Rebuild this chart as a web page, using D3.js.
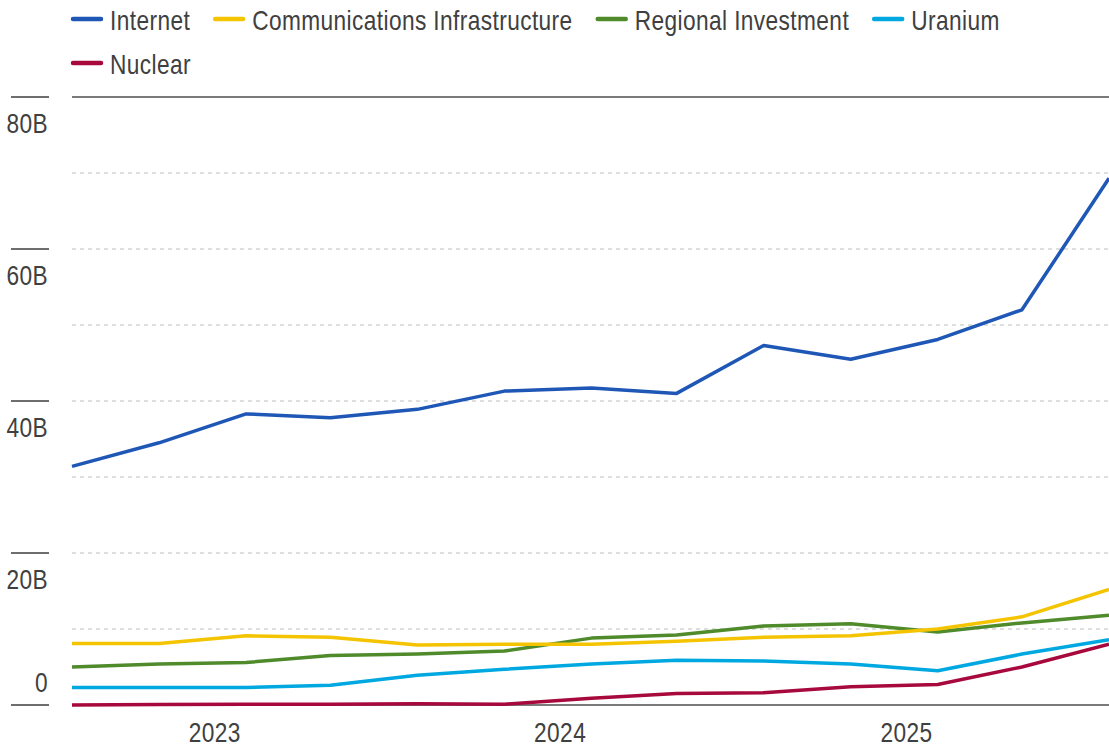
<!DOCTYPE html>
<html>
<head>
<meta charset="utf-8">
<script src="https://cdn.jsdelivr.net/npm/d3@7"></script>
<style>
  html, body { margin: 0; padding: 0; background: #fff; }
  svg { display: block; }
  text { font-family: "Liberation Sans", Arial, sans-serif; fill: #404040; letter-spacing: 0.5px; }
</style>
</head>
<body>
<svg id="chart" width="1109" height="749"></svg>
<script>
const dates = ["2022-08-01", "2022-11-01", "2023-02-01", "2023-05-01", "2023-08-01",
  "2023-11-01", "2024-02-01", "2024-05-01", "2024-08-01", "2024-11-01",
  "2025-02-01", "2025-05-01", "2025-08-01"];

const seriesNames = ["Internet", "Communications Infrastructure", "Regional Investment", "Uranium", "Nuclear"];
const seriesColors = ["#1f57b6", "#f5c400", "#4f8a2b", "#00a8e1", "#a7093d"];

// values in billions
const internet = [31.4, 34.5, 38.3, 37.8, 38.9, 41.3, 41.7, 41.0, 47.3, 45.5, 48.1, 52.0, 69.3];
const commInfra = [8.1, 8.1, 9.1, 8.9, 7.9, 8.0, 8.0, 8.4, 8.9, 9.1, 10.0, 11.6, 15.2];
const regional = [5.0, 5.4, 5.6, 6.5, 6.7, 7.1, 8.8, 9.2, 10.4, 10.7, 9.6, 10.8, 11.8];
const uranium = [2.3, 2.3, 2.3, 2.6, 3.9, 4.7, 5.4, 5.9, 5.8, 5.4, 4.5, 6.7, 8.6];
const nuclear = [0.0, 0.05, 0.1, 0.1, 0.15, 0.1, 0.9, 1.5, 1.6, 2.4, 2.7, 5.0, 8.0];

const yLabelTicks = [0, 20, 40, 60, 80];
const gridTicks = [10, 20, 30, 40, 50, 60, 70];
const yearTicks = ["2023-01-01", "2024-01-01", "2025-01-01"];

const allValues = [internet, commInfra, regional, uranium, nuclear];
const parse = d3.timeParse("%Y-%m-%d");

const svg = d3.select("#chart");
const margin = { left: 72, right: 0, top: 97, bottom: 44 };
const width = 1109, height = 749;
const squeeze = 0.81; // condensed look for the labels

const x = d3.scaleTime()
  .domain(d3.extent(dates, parse))
  .range([margin.left, width - margin.right]);
const y = d3.scaleLinear()
  .domain([0, 80])
  .range([height - margin.bottom, margin.top]);

const place = (tx, ty) => `translate(${tx},${ty}) scale(${squeeze},1)`;

// dashed gridlines
svg.append("g").attr("class", "grid")
  .selectAll("line").data(gridTicks).join("line")
  .attr("x1", margin.left).attr("x2", width)
  .attr("y1", d => y(d)).attr("y2", d => y(d))
  .attr("stroke", "#d4d4d4").attr("stroke-width", 1.5)
  .attr("stroke-dasharray", "4,4");

// top and bottom solid rules
svg.append("g").selectAll("line").data([0, 80]).join("line")
  .attr("x1", margin.left).attr("x2", width)
  .attr("y1", d => y(d)).attr("y2", d => y(d))
  .attr("stroke", "#7a7a7a").attr("stroke-width", 2);

// y tick marks + labels
const yAxis = svg.append("g").attr("class", "axis-y");
yAxis.selectAll("line").data(yLabelTicks).join("line")
  .attr("x1", 11).attr("x2", 49)
  .attr("y1", d => y(d)).attr("y2", d => y(d))
  .attr("stroke", "#6e6e6e").attr("stroke-width", 2);
yAxis.selectAll("text").data(yLabelTicks).join("text")
  .attr("transform", d => place(48, d === 0 ? y(d) - 13 : y(d) + 36))
  .attr("text-anchor", "end")
  .attr("font-size", 28)
  .text(d => d === 0 ? "0" : d + "B");

// x labels
svg.append("g").attr("class", "axis-x")
  .selectAll("text").data(yearTicks).join("text")
  .attr("transform", d => place(x(parse(d)) - 2, 742))
  .attr("text-anchor", "middle")
  .attr("font-size", 28)
  .text(d => d.slice(0, 4));

// lines
const line = d3.line()
  .x((d, i) => x(parse(dates[i])))
  .y(d => y(d));

svg.append("g").attr("class", "lines")
  .selectAll("path").data(allValues.slice().reverse()).join("path")
  .attr("d", d => line(d))
  .attr("fill", "none")
  .attr("stroke", (d, i) => seriesColors[seriesColors.length - 1 - i])
  .attr("stroke-width", 3.5)
  .attr("stroke-linejoin", "round");

// legend, flowing left to right and wrapping
const legend = svg.append("g").attr("class", "legend");
let lx = 73, row = 0;
seriesNames.forEach((name, i) => {
  const g = legend.append("g");
  const t = g.append("text")
    .attr("font-size", 28)
    .text(name);
  const w = t.node().getComputedTextLength() * squeeze;
  if (lx + 37 + w > width) { lx = 73; row += 1; }
  const base = 30 + row * 44;
  g.append("line")
    .attr("x1", lx).attr("x2", lx + 28)
    .attr("y1", base - 11).attr("y2", base - 11)
    .attr("stroke", seriesColors[i]).attr("stroke-width", 4.5)
    .attr("stroke-linecap", "round");
  t.attr("transform", place(lx + 37, base));
  lx += 37 + w + 25;
});
</script>
</body>
</html>
